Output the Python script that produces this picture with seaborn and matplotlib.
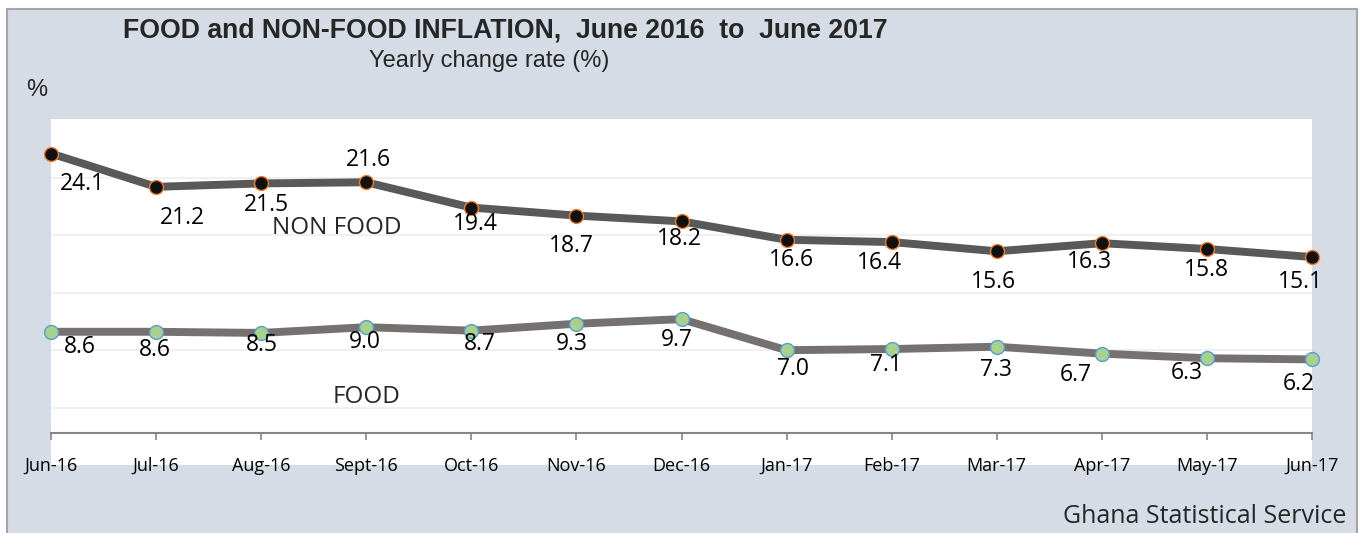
import numpy as np
import pandas as pd
import matplotlib
matplotlib.use("Agg")
import matplotlib.pyplot as plt
from matplotlib.patches import Rectangle
import seaborn as sns

months = ["Jun-16", "Jul-16", "Aug-16", "Sept-16", "Oct-16", "Nov-16", "Dec-16",
          "Jan-17", "Feb-17", "Mar-17", "Apr-17", "May-17", "Jun-17"]
non_food = [24.1, 21.2, 21.5, 21.6, 19.4, 18.7, 18.2, 16.6, 16.4, 15.6, 16.3, 15.8, 15.1]
food = [8.6, 8.6, 8.5, 9.0, 8.7, 9.3, 9.7, 7.0, 7.1, 7.3, 6.7, 6.3, 6.2]

# label offsets in pixels (dx right, dy down)
non_food_off = [(31, 30), (26, 31), (5, 22), (2, -22), (4, 16), (-5, 30), (-2, 18),
                (5, 20), (-12, 21), (-3, 31), (-12, 19), (0, 21), (-12, 25)]
food_off = [(29, 15), (-1, 18), (1, 12), (-1, 15), (8, 13), (-5, 20), (-5, 21),
            (6, 19), (-6, 16), (-1, 23), (-26, 21), (-20, 15), (-13, 25)]

W, H = 1365, 533
BG = "#D6DCE5"

sns.set_theme(style="white")
plt.rcParams["font.family"] = ["Open Sans", "DejaVu Sans"]

df = pd.DataFrame({"pos": np.arange(len(months)), "month": months,
                   "non_food": non_food, "food": food})

fig = plt.figure(figsize=(W / 100, H / 100), dpi=100, facecolor="white")

def px_rect(x0, y0, x1, y1, **kw):
    # rectangle given in picture pixels (y from top)
    return Rectangle((x0 / W, 1 - y1 / H), (x1 - x0) / W, (y1 - y0) / H,
                     transform=fig.transFigure, **kw)

fig.patches.append(px_rect(7, 9, 1357, 560, facecolor=BG, edgecolor="#A6A6A6",
                           lw=1.5, zorder=-2))
fig.patches.append(px_rect(51, 119, 1312, 465, facecolor="white", edgecolor="none",
                           zorder=-1))

ax = fig.add_axes([51 / W, 1 - 433 / H, 1261 / W, 314 / H])
ax.set_facecolor("none")

sns.lineplot(data=df, x="pos", y="non_food", ax=ax, color="#595959", lw=5.7,
             marker="o", markersize=10, markerfacecolor="#111111",
             markeredgecolor="#ED7D31", markeredgewidth=1.0)
sns.lineplot(data=df, x="pos", y="food", ax=ax, color="#767171", lw=5.7,
             marker="o", markersize=10, markerfacecolor="#A9D18E",
             markeredgecolor="#5B9BD5", markeredgewidth=1.0)
for ln in ax.lines:
    ln.set_clip_on(False)
    ln.set_solid_joinstyle("round")

ax.set_xlim(0, 12)
ax.set_ylim(-0.2, 27.1)
ax.set_yticks([2, 7, 12, 17, 22])
ax.set_yticklabels([])
ax.grid(axis="y", color="#EEEEEE", lw=1.2)
ax.grid(axis="x", visible=False)
ax.set_xticks(df["pos"])
ax.set_xticklabels(months, fontsize=13)
ax.tick_params(axis="x", bottom=True, direction="out", length=5, width=1.2,
               color="#868686", pad=12, labelcolor="black")
ax.tick_params(axis="y", length=0)
ax.set_xlabel("")
ax.set_ylabel("")
for s in ["top", "right", "left"]:
    ax.spines[s].set_visible(False)
ax.spines["bottom"].set_color("#868686")
ax.spines["bottom"].set_linewidth(1.5)

for i, v in enumerate(non_food):
    dx, dy = non_food_off[i]
    ax.annotate(f"{v:.1f}", (i, v), xytext=(dx * 0.72, -dy * 0.72),
                textcoords="offset points", ha="center", va="center",
                fontsize=16.5, color="black")
for i, v in enumerate(food):
    dx, dy = food_off[i]
    ax.annotate(f"{v:.1f}", (i, v), xytext=(dx * 0.72, -dy * 0.72),
                textcoords="offset points", ha="center", va="center",
                fontsize=16.5, color="black")

ax.text(2.72, 17.6, "NON FOOD", ha="center", va="center", fontsize=17.5)
ax.text(3.0, 2.9, "FOOD", ha="center", va="center", fontsize=17.5)

fig.text(505 / W, 1 - 30 / H, "FOOD and NON-FOOD INFLATION,  June 2016  to  June 2017",
         ha="center", va="center", fontsize=19.2, fontweight="bold",
         family="Liberation Sans")
fig.text(489 / W, 1 - 61 / H, "Yearly change rate (%)", ha="center", va="center",
         fontsize=17, family="Liberation Sans")
fig.text(37 / W, 1 - 90 / H, "%", ha="center", va="center", fontsize=17,
         family="Liberation Sans")
fig.text(1205 / W, 1 - 504 / H, "Ghana Statistical Service", ha="center", va="top",
         fontsize=18)

fig.savefig("out.png", dpi=100, facecolor=fig.get_facecolor())
